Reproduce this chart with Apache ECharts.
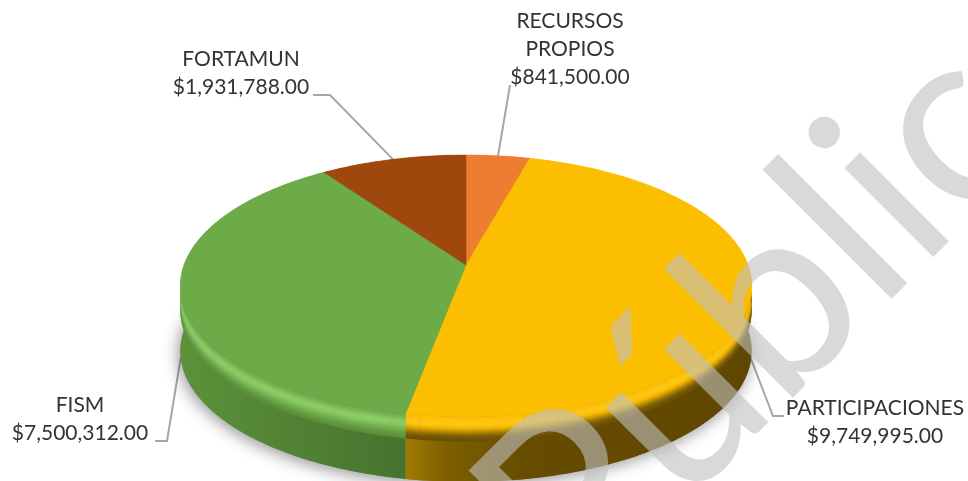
<!DOCTYPE html>
<html>
<head>
<meta charset="utf-8">
<style>
  html, body { margin: 0; padding: 0; background: #fff; }
  #main { width: 968px; height: 481px; }
</style>
<script src="https://cdn.jsdelivr.net/npm/echarts@6/dist/echarts.min.js"></script>
</head>
<body>
<div id="main"></div>
<script>
// clockwise from 12 o'clock, same order as the slices in the picture
const categories = ['RECURSOS\nPROPIOS', 'PARTICIPACIONES', 'FISM', 'FORTAMUN']
const amounts = [841500, 9749995, 7500312, 1931788]

const topColors = ['#ed7d31', '#fcbe00', '#6dab49', '#9e480e']
// rim of the disc, from the flat top down to the wall
const rimRamps = [
  ['#ed7d31', '#f59a5c', '#a5561f', '#7a3f17'],
  ['#fcbe00', '#fec30c', '#ffc71a', '#fcbe00', '#d29f00', '#9c7600', '#75580a', '#6b5000'],
  ['#6dab49', '#7dbd58', '#8ed068', '#84c660', '#72b04e', '#639c40', '#5a9038'],
  ['#9e480e', '#b5602a', '#6f320a', '#5a2a08']
]
const wallStops = [
  [[0, '#a5561f'], [1, '#7a3f17']],
  [[0, '#a07a00'], [0.12, '#7d5f00'], [0.35, '#664c00'], [1, '#5f4700']],
  [[0, '#5c9239'], [1, '#46732f']],
  [[0, '#6f320a'], [1, '#5a2a08']]
]
// label centre, first text line y, then the bend of the leader line
const labelPos = [[570, 21], [875, 408], [80, 405], [241, 59]]
const leaderTail = [
  [[510, 85]],
  [[773, 416], [784, 416]],
  [[167, 441], [155, 441]],
  [[330, 95], [313, 95]]
]
const leaderDrop = [0, 65, 65, 0]

// disc geometry: a circle under perspective, nearer edge looks bigger
const cx = 466, cy = 265, sx = 282, sy = 127.6, persp = 0.16
const rimH = 24, bodyH = 65

const total = amounts.reduce((a, b) => a + b, 0)
const starts = []
amounts.reduce((acc, v, i) => { starts[i] = acc; return acc + v }, 0)
const toDeg = v => v / total * 360

function rim(deg, drop) {
  const t = deg * Math.PI / 180
  const u = Math.sin(t), v = -Math.cos(t)
  const d = 1 - persp * v
  return [cx + sx * u / d, cy + sy * v / d + drop]
}
function arc(a0, a1, drop) {
  const pts = []
  const n = Math.max(2, Math.ceil(a1 - a0))
  for (let i = 0; i <= n; i++) pts.push(rim(a0 + (a1 - a0) * i / n, drop))
  return pts
}
function band(a0, a1, d0, d1) {
  return arc(a0, a1, d0).concat(arc(a0, a1, d1).reverse())
}
function sliceAngles(i) {
  return [toDeg(starts[i]), toDeg(starts[i] + amounts[i])]
}

function renderShadow(params) {
  const [a0, a1] = sliceAngles(params.dataIndex)
  return {
    type: 'polygon',
    shape: { points: [[cx, cy + bodyH]].concat(arc(a0, a1, bodyH)) },
    style: { fill: '#888', shadowBlur: 16, shadowColor: 'rgba(0,0,0,0.42)', shadowOffsetX: -2, shadowOffsetY: 3 }
  }
}
function renderSide(params) {
  const i = params.dataIndex
  const [a0, a1] = sliceAngles(i)
  const children = [{
    type: 'polygon',
    shape: { points: band(a0, a1, rimH - 1, bodyH) },
    style: {
      fill: {
        type: 'linear', x: 0, y: 0, x2: 1, y2: 0,
        colorStops: wallStops[i].map(s => ({ offset: s[0], color: s[1] }))
      }
    }
  }]
  const strips = 24
  for (let k = 0; k < strips; k++) {
    const c = echarts.color.lerp(k / (strips - 1), rimRamps[i])
    children.push({
      type: 'polygon',
      shape: { points: band(a0, a1, rimH * k / strips, rimH * (k + 1) / strips + 0.6) },
      style: { fill: c }
    })
  }
  return { type: 'group', children: children }
}
function renderTop(params) {
  const i = params.dataIndex
  const [a0, a1] = sliceAngles(i)
  return {
    type: 'polygon',
    shape: { points: [[cx, cy]].concat(arc(a0, a1, 0)) },
    style: { fill: topColors[i], stroke: topColors[i], lineWidth: 0.5 }
  }
}
function renderLabel(params) {
  const i = params.dataIndex
  const mid = toDeg(starts[i] + amounts[i] / 2)
  const money = '$' + amounts[i].toLocaleString('en-US', { minimumFractionDigits: 2 })
  return {
    type: 'group',
    children: [{
      type: 'polyline',
      shape: { points: [rim(mid, leaderDrop[i])].concat(leaderTail[i]) },
      style: { fill: 'none', stroke: '#a6a6a6', lineWidth: 2 }
    }, {
      type: 'text',
      style: {
        x: labelPos[i][0], y: labelPos[i][1] - 14,
        text: categories[i] + '\n' + money,
        fill: '#333', align: 'center', verticalAlign: 'top',
        font: '21px "Lato"', lineHeight: 28
      }
    }]
  }
}

const rows = amounts.map(v => [v])
const layer = (fn, z) => ({
  type: 'custom', coordinateSystem: 'none', data: rows, renderItem: fn, z: z,
  silent: true, animation: false
})

const myChart = echarts.init(document.getElementById('main'))
myChart.setOption({
  animation: false,
  backgroundColor: '#fff',
  series: [layer(renderLabel, 1), layer(renderShadow, 2), layer(renderSide, 3), layer(renderTop, 4)],
  graphic: [{
    type: 'text',
    x: 434, y: 468,
    rotation: 45 * Math.PI / 180,
    z: 100,
    silent: true,
    style: {
      text: 'Público',
      fill: 'rgba(192,192,192,0.6)',
      font: '248px "Lato"',
      align: 'left', verticalAlign: 'top'
    }
  }]
})
</script>
</body>
</html>
